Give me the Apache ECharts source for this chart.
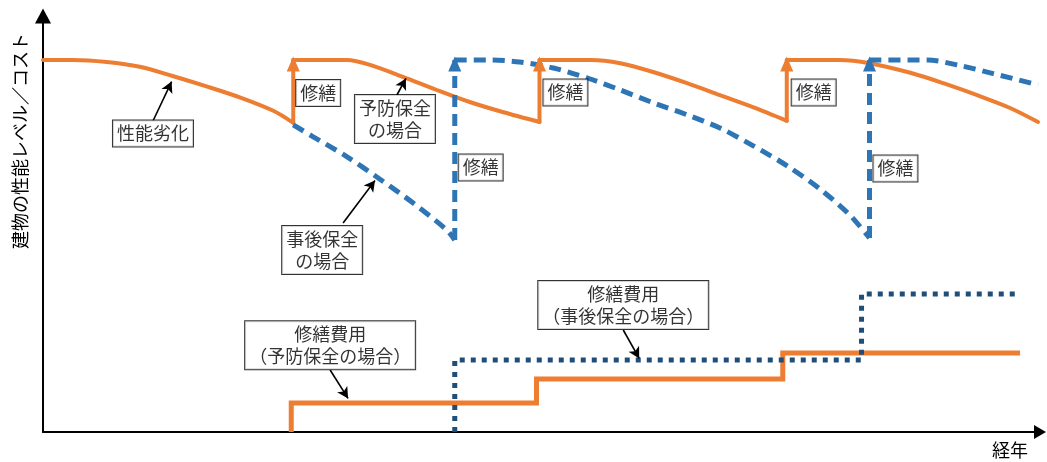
<!DOCTYPE html>
<html>
<head>
<meta charset="utf-8">
<script src="https://cdn.jsdelivr.net/npm/echarts@6/dist/echarts.min.js"></script>
<style>
html,body{margin:0;padding:0;background:#fff;}
#chart{width:1047px;height:462px;}
</style>
</head>
<body>
<div id="chart"></div>
<script>
// ---- data (x: years on 0..100 scale, y: level on 0..104 scale) ----
const fullPerformance = 93;
const preventivePerformance = [
  [0,93],[3.0,93],[6.4,92.5],[9.7,91.3],[13.0,89.0],[16.4,86.4],[19.8,83.6],[23.1,80.3],[25.1,77.3],
  [25.1,93],[30.5,93],[32.8,91.8],[36.1,88.8],[39.5,85.5],[42.8,82.5],[46.1,80],[49.8,77.5],
  [49.8,93],[54.9,93],[57.9,92.2],[61.2,90],[64.6,87.2],[67.9,84.2],[71.2,81.2],[74.6,77.8],
  [74.6,93],[79.9,93],[82.9,92.2],[87.0,89.8],[90.3,87.2],[93.7,84.2],[97.0,81],[99.8,77.5]
];
const correctivePerformance = [
  [25.1,76.8],[27.1,73.8],[30.5,68.8],[33.8,63.2],[37.1,57.3],[40.5,50.5],[41.3,48],
  [41.3,93],[44.8,93],[47.8,92.5],[51.2,91],[54.6,88.5],[57.9,85.5],[61.2,82.3],[64.6,79.3],
  [67.9,76],[71.2,71.6],[74.6,66.6],[77.9,60.8],[80.9,54.3],[82.9,48.5],
  [82.9,93],[88.7,93],[92.0,91.6],[95.3,89.6],[99.8,86.8]
];
const preventiveRepairYears = [25.1, 49.8, 74.6];
const correctiveRepairYears = [41.3, 82.9];
const preventiveCostYears = [24.9, 49.5, 74.2];
const preventiveCostLevels = [7.25, 13.25, 19.75];
const correctiveCostYears = [41.3, 82.1];
const correctiveCostLevels = [18, 34.5];
const costEndYear = 98.0;

const annotationTexts = ['性能劣化','修繕','修繕','修繕','修繕','修繕','予防保全\nの場合','事後保全\nの場合','修繕費用\n（予防保全の場合）','修繕費用\n（事後保全の場合）'];
const annotationAt = [[11.03,74.6],[27.6,84.75],[52.4,84.9],[77.3,84.9],[43.9,66.1],[85.5,65.9],[35.3,78.25],[28.0,45.5],[28.8,21.7],[58.2,31.75]];
const arrowFrom = [[11.03,77.75],[35.5,84.25],[30.1,52.25],[28.8,15.5],[58.2,25.5]];
const arrowTo = [[12.9,87.6],[36.4,88.4],[33.3,62.9],[30.6,8.4],[59.8,18.4]];

const yTitle = '建物の性能レベル／コスト';
const xTitle = '経年';

// ---- build ----
function stepPoints(years, levels, end){
  const pts = []; let prev = 0;
  years.forEach((x,i)=>{ pts.push([x,prev]); pts.push([x,levels[i]]); prev = levels[i]; });
  pts.push([end,prev]);
  return pts;
}
// split a path into x-increasing curve runs and vertical jump pieces
function splitPath(points){
  const curves = [], jumps = [];
  let cur = [points[0]];
  for (let i = 1; i < points.length; i++){
    const p = points[i], q = points[i-1];
    if (p[0] === q[0]) { curves.push(cur); jumps.push([q, p]); cur = [p]; }
    else cur.push(p);
  }
  curves.push(cur);
  return {curves, jumps};
}
const ORANGE = '#ED7D31', BLUE = '#2E75B6', NAVY = '#1F4E79';
const FONT = '"Noto Sans CJK JP", "Noto Sans", sans-serif';

function perfSeries(points, style, z, markers, color){
  const parts = splitPath(points);
  const out = [];
  parts.curves.forEach(c => out.push({type:'line', data:c, smooth:0.3, showSymbol:false, silent:true, z, lineStyle:style}));
  parts.jumps.forEach(j => out.push({type:'line', data:j, showSymbol:false, silent:true, z, lineStyle:style}));
  out[0].markPoint = {silent:true, symbol:'triangle', symbolSize:[13,15], symbolOffset:[0,4], label:{show:false},
    itemStyle:{color}, data:markers.map(x=>({coord:[x, fullPerformance]}))};
  return out;
}

const chart = echarts.init(document.getElementById('chart'), null, {renderer:'canvas'});
chart.setOption({
  animation:false,
  backgroundColor:'#fff',
  grid:{left:43, right:7, top:16, bottom:30},
  xAxis:{type:'value', min:0, max:100,
    axisLine:{show:true, onZero:false, symbol:['none','triangle'], symbolSize:[14,12], lineStyle:{color:'#000', width:2}},
    axisTick:{show:false}, axisLabel:{show:false}, splitLine:{show:false}},
  yAxis:{type:'value', min:0, max:104,
    axisLine:{show:true, onZero:false, symbol:['none','triangle'], symbolSize:[16,15], lineStyle:{color:'#000', width:2}},
    axisTick:{show:false}, axisLabel:{show:false}, splitLine:{show:false}},
  graphic:[
    {type:'text', x:20, y:141, rotation:Math.PI/2, style:{text:yTitle, fontSize:18, fontFamily:FONT, fill:'#000', align:'center', verticalAlign:'middle'}},
    {type:'text', x:1010, y:450, style:{text:xTitle, fontSize:18, fontFamily:FONT, fill:'#000', align:'center', verticalAlign:'middle'}}
  ],
  series:[
    {type:'line', name:'preventiveCost', data:stepPoints(preventiveCostYears, preventiveCostLevels, costEndYear),
      showSymbol:false, silent:true, z:2, lineStyle:{color:ORANGE, width:5, join:'miter'}},
    {type:'line', name:'correctiveCost', data:stepPoints(correctiveCostYears, correctiveCostLevels, costEndYear),
      showSymbol:false, silent:true, z:3, lineStyle:{color:NAVY, width:5, type:[5,6], cap:'butt'}},
    ...perfSeries(preventivePerformance, {color:ORANGE, width:4, cap:'round', join:'round'}, 2, preventiveRepairYears, ORANGE),
    ...perfSeries(correctivePerformance, {color:BLUE, width:5, type:[12,7], cap:'butt'}, 3, correctiveRepairYears, BLUE),
    {type:'scatter', name:'annotations', symbolSize:0, silent:true, z:10,
      data:annotationAt.map((p,i)=>({value:p, name:annotationTexts[i]})),
      label:{show:true, position:'inside', formatter:p=>p.name, color:'#000', fontSize:18, fontFamily:FONT,
        lineHeight:22, align:'center', verticalAlign:'middle', backgroundColor:'#fff', borderColor:'#000', borderWidth:1, padding:[2,4]},
      markLine:{silent:true, symbol:['none','arrow'], symbolSize:[9,11], label:{show:false},
        lineStyle:{color:'#000', width:1.6, type:'solid'},
        data:arrowFrom.map((f,i)=>[{coord:f},{coord:arrowTo[i]}])}}
  ]
});
</script>
</body>
</html>
